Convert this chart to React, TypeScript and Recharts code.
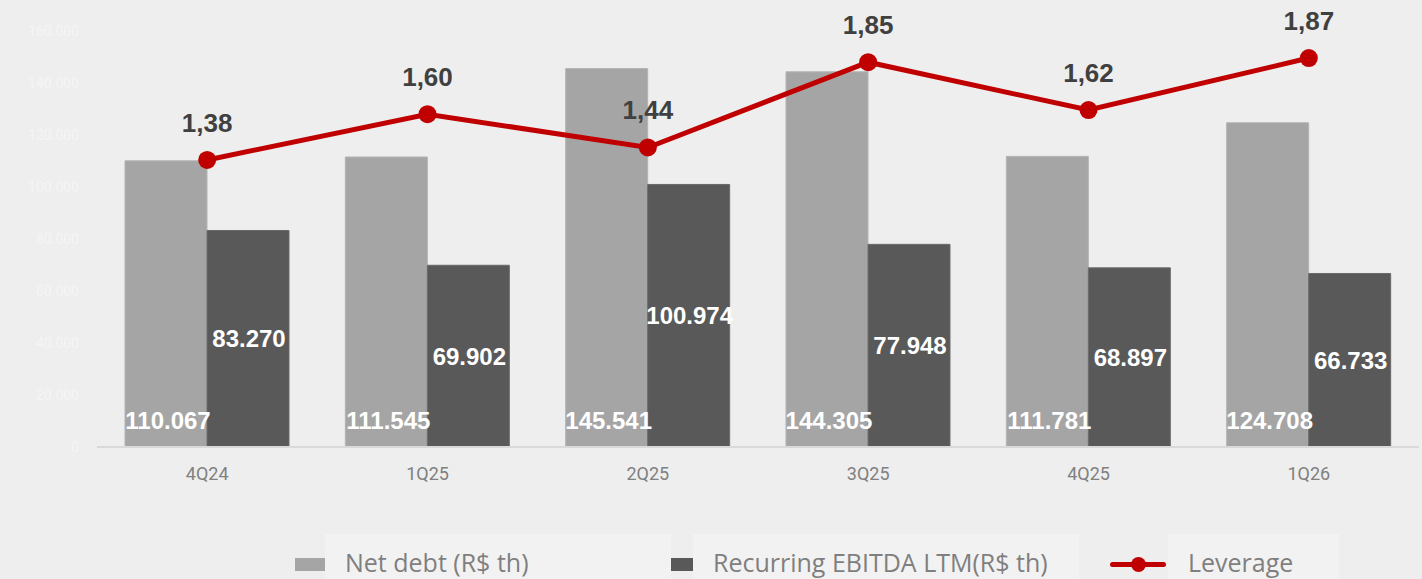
import { ComposedChart, Bar, Line, XAxis, YAxis, CartesianGrid } from "recharts";

const quarters = ["4Q24", "1Q25", "2Q25", "3Q25", "4Q25", "1Q26"];
const netDebt = [110067, 111545, 145541, 144305, 111781, 124708];
const ebitdaLtm = [83270, 69902, 100974, 77948, 68897, 66733];
const leverage = [1.38, 1.6, 1.44, 1.85, 1.62, 1.87];
const leftTicks = [0, 20000, 40000, 60000, 80000, 100000, 120000, 140000, 160000];

const chartData = quarters.map((q, i) => ({
    quarter: q,
    netDebt: netDebt[i],
    ebitda: ebitdaLtm[i],
    leverage: leverage[i],
}));

const fmtThousands = (v: number) => String(v).replace(/\B(?=(\d{3})+(?!\d))/g, ".");
const fmtRatio = (v: number) => v.toFixed(2).replace(".", ",");

const valueFont = "'Liberation Sans', Arial, sans-serif";

function NetDebtLabel(props: any) {
    const { x, y, width, height, value } = props;
    return (
        <text x={x + width / 2 + 2} y={y + height - 27} textAnchor="middle" dominantBaseline="central"
            fill="#ffffff" fontFamily={valueFont} fontWeight={700} fontSize={24}>
            {fmtThousands(value)}
        </text>
    );
}

function EbitdaLabel(props: any) {
    const { x, y, width, height, value } = props;
    return (
        <text x={x + width / 2 + 1} y={y + height / 2} textAnchor="middle" dominantBaseline="central"
            fill="#ffffff" fontFamily={valueFont} fontWeight={700} fontSize={24}>
            {fmtThousands(value)}
        </text>
    );
}

function LeverageLabel(props: any) {
    const { x, y, value } = props;
    return (
        <text x={x} y={y - 37} textAnchor="middle" dominantBaseline="central"
            fill="#404040" fontFamily={valueFont} fontWeight={700} fontSize={26}>
            {fmtRatio(value)}
        </text>
    );
}

const legendText = {
    position: "absolute" as const,
    top: 534,
    height: 45,
    background: "#f2f2f2",
    color: "#7f7f7f",
    fontFamily: "'Open Sans', sans-serif",
    fontSize: 25,
    lineHeight: "56px",
    whiteSpace: "nowrap" as const,
    boxSizing: "border-box" as const,
};

export default function App() {
    return (
        <div style={{ position: "absolute", left: 0, top: 0, width: 1422, height: 579, background: "#eeeeee", overflow: "hidden" }}>
            <ComposedChart
                width={1422}
                height={579}
                data={chartData}
                margin={{ top: 31, right: 3, left: 0, bottom: 92 }}
                barGap={0}
            >
                <CartesianGrid horizontal={false} vertical={false} />
                <XAxis
                    dataKey="quarter"
                    height={40}
                    axisLine={{ stroke: "#d9d9d9", strokeWidth: 2 }}
                    tickLine={false}
                    tick={{ fill: "#808080", fontSize: 18, fontFamily: "Roboto, sans-serif" }}
                    dy={12}
                />
                <YAxis
                    yAxisId="left"
                    width={97}
                    domain={[0, 160000]}
                    ticks={leftTicks}
                    axisLine={false}
                    tickLine={false}
                    tickFormatter={(v: number) => fmtThousands(v)}
                    tick={{ fill: "#f5f5f5", fontSize: 14, fontFamily: "Roboto, sans-serif" }}
                    dx={-10}
                />
                <YAxis yAxisId="right" orientation="right" domain={[0, 2]} hide />
                <Bar yAxisId="left" dataKey="netDebt" name="Net debt (R$ th)" fill="#a5a5a5" stroke="#b4b4b4" strokeWidth={1}
                    barSize={82} isAnimationActive={false} label={NetDebtLabel} />
                <Bar yAxisId="left" dataKey="ebitda" name="Recurring EBITDA LTM(R$ th)" fill="#595959" stroke="#6a6a6a" strokeWidth={1}
                    barSize={82} isAnimationActive={false} label={EbitdaLabel} />
                <Line yAxisId="right" dataKey="leverage" name="Leverage" type="linear" stroke="#c00000" strokeWidth={5}
                    dot={{ r: 9, fill: "#c00000", stroke: "none" }} isAnimationActive={false} label={LeverageLabel} />
            </ComposedChart>

            {/* legend drawn by hand so it doesn't eat plot height */}
            <div style={{ position: "absolute", left: 295, top: 558, width: 30, height: 13, background: "#a5a5a5" }} />
            <div style={{ ...legendText, left: 325, width: 346, paddingLeft: 20 }}>Net debt (R$ th)</div>
            <div style={{ position: "absolute", left: 671, top: 558, width: 22, height: 13, background: "#595959" }} />
            <div style={{ ...legendText, left: 693, width: 386, paddingLeft: 20 }}>Recurring EBITDA LTM(R$ th)</div>
            <div style={{ position: "absolute", left: 1110, top: 562, width: 56, height: 5, borderRadius: 3, background: "#c00000" }} />
            <div style={{ position: "absolute", left: 1131, top: 557, width: 15, height: 15, borderRadius: "50%", background: "#c00000" }} />
            <div style={{ ...legendText, left: 1168, width: 171, paddingLeft: 20 }}>Leverage</div>
        </div>
    );
}
